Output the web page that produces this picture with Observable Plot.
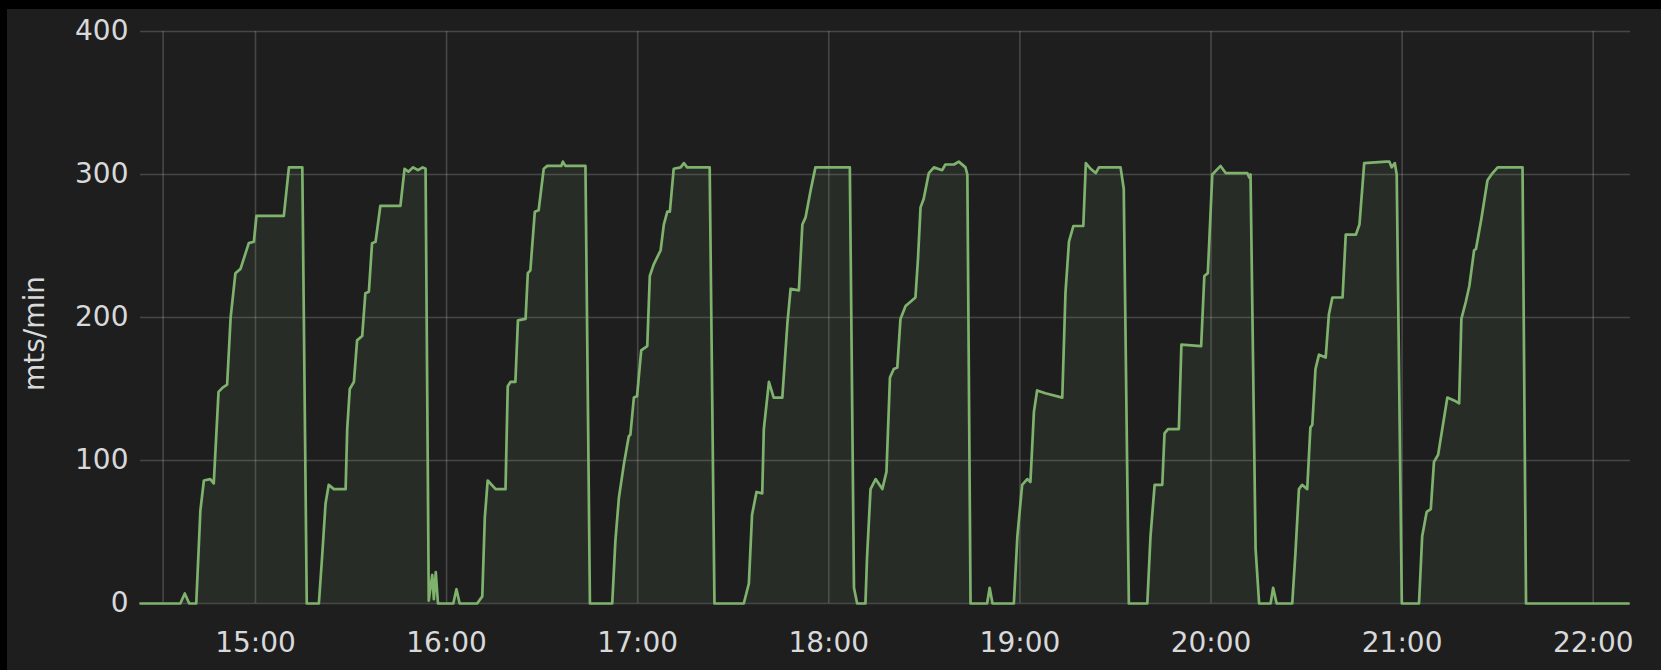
<!DOCTYPE html>
<html>
<head>
<meta charset="utf-8">
<script src="https://cdn.jsdelivr.net/npm/d3@7"></script>
<script src="https://cdn.jsdelivr.net/npm/@observablehq/plot@0.6"></script>
<style>
  html, body { margin: 0; padding: 0; background: #000; }
  #wrap { width: 1661px; height: 670px; box-sizing: border-box; padding-left: 7px; padding-top: 9px; background: #000; overflow: hidden; }
  #wrap svg { display: block; }
</style>
</head>
<body>
<div id="wrap"></div>
<script>
// Minutes relative to 15:00, and mts/min values
const minutes = [
  -36.1,-23.6,-22.2,-20.8,-18.6,-17.3,-16.2,-14.2,-13.1,-11.6,-10.3,-8.9,-7.8,-6.3,-4.7,-2.1,-0.5,0.3,8.9,10.5,14.7,16.1,19.9,
  20.9,22.0,23.0,24.6,28.3,28.8,29.6,30.9,31.9,33.5,34.5,35.6,36.6,37.7,39.2,45.5,46.8,48.0,49.5,51.0,52.5,53.4,54.4,55.5,56.0,56.6,57.3,62.1,63.1,64.1,69.6,71.2,
  72.0,72.9,75.4,78.5,79.2,80.1,81.6,82.4,84.8,85.5,86.3,87.7,88.9,90.5,91.6,96.0,96.5,97.3,103.6,105.0,112.0,
  113.0,114.1,115.7,117.2,117.7,118.8,119.8,121.1,123.0,123.8,125.0,127.2,128.2,129.3,130.1,131.3,133.5,134.5,135.5,142.6,144.1,153.3,
  154.9,155.9,157.3,159.1,159.6,161.2,162.7,165.4,167.0,168.0,170.6,171.7,172.7,174.3,175.8,186.6,187.9,188.9,191.5,
  192.0,193.1,194.7,196.8,198.1,199.2,200.4,201.5,202.5,204.1,207.2,208.0,208.8,209.8,211.4,213.0,215.6,216.6,219.3,220.8,222.9,223.5,224.5,229.7,230.5,231.4,238.1,
  239.2,240.7,242.3,243.3,244.4,245.4,248.0,253.3,254.3,255.4,256.8,259.9,260.7,262.2,263.8,264.8,271.6,272.6,274.2,280.0,
  281.0,282.3,284.7,285.4,286.5,289.9,290.7,296.9,297.9,299.0,300.4,303.0,304.6,311.4,312.0,312.4,314.0,315.1,318.7,319.5,320.6,325.5,
  326.5,327.6,328.6,330.2,331.2,331.8,332.8,333.9,336.0,337.0,338.1,341.3,342.3,345.5,346.6,348.1,355.0,356.0,356.7,357.7,358.3,359.9,365.3,
  366.3,367.7,369.0,370.0,371.3,374.2,376.3,377.9,378.6,380.0,381.1,382.6,383.2,384.8,386.8,388.4,390.0,397.8,398.9,431.1
];
const values = [
  0,0,7,0,0,65,86,87,84,148,151,153,200,231,234,252,253,271,271,305,305,0,0,
  32,70,83,80,80,122,150,155,184,187,217,218,252,253,278,278,304,302,305,303,305,304,2,20,3,22,0,0,10,0,0,5,
  60,86,80,80,152,155,155,198,199,231,233,274,275,304,306,306,309,306,306,0,0,
  44,74,98,117,118,144,145,177,180,229,237,247,265,274,274,304,305,308,305,305,0,0,
  14,62,78,77,122,155,144,144,196,220,219,265,270,289,305,305,11,0,0,
  32,80,87,80,92,158,164,165,199,208,214,241,277,283,301,305,303,307,307,309,305,300,0,0,11,0,0,
  47,83,87,85,134,149,147,144,217,253,264,264,308,304,301,305,305,290,0,0,
  47,83,83,119,122,122,181,180,229,231,300,306,301,301,298,300,38,0,0,11,0,0,
  35,80,83,80,123,125,164,174,172,202,214,214,258,258,265,308,309,309,305,308,300,0,0,
  47,64,66,99,104,144,142,140,199,211,222,247,248,268,296,301,305,305,0,0
];
const xDomainMinutes = [-36.1, 431.7];
const xTickLabels = ["15:00","16:00","17:00","18:00","19:00","20:00","21:00","22:00"];
const xGridLabels = ["14:31","15:00","16:00","17:00","18:00","19:00","20:00","21:00","22:00"];
const yTicks = [0, 100, 200, 300, 400];
const yLabel = "mts/min";

const base = Date.UTC(2020, 0, 1, 15, 0, 0);
const toDate = m => new Date(base + m * 60000);
const parseClock = s => { const [h, mm] = s.split(":").map(Number); return new Date(Date.UTC(2020, 0, 1, h, mm)); };

const data = minutes.map((m, i) => ({t: toDate(m), v: values[i]}));
const tickDates = xTickLabels.map(parseClock);
const gridDates = xGridLabels.map(parseClock);

const green = "#7eb26d";
const gridColor = "rgba(200,200,200,0.24)";
const textColor = "#d8d9da";

const chart = Plot.plot({
  width: 1654,
  height: 661,
  marginLeft: 133,
  marginRight: 31,
  marginTop: 22,
  marginBottom: 67,
  style: {background: "#1f1e1f", color: textColor, fontFamily: "'DejaVu Sans', sans-serif", fontSize: "28px"},
  x: {type: "utc", domain: xDomainMinutes.map(toDate), ticks: tickDates, tickFormat: d3.utcFormat("%H:%M"), tickSize: 0, tickPadding: 29, label: null},
  y: {domain: [0, 400], ticks: yTicks, tickSize: 0, tickPadding: 12, label: null},
  marks: [
    Plot.ruleY(yTicks, {stroke: gridColor, strokeWidth: 1.6}),
    Plot.ruleX(gridDates, {stroke: gridColor, strokeWidth: 1.6}),
    Plot.areaY(data, {x: "t", y: "v", fill: green, fillOpacity: 0.1}),
    Plot.lineY(data, {x: "t", y: "v", stroke: green, strokeWidth: 2.7, strokeLinejoin: "round"}),
    Plot.text([yLabel], {frameAnchor: "left", textAnchor: "middle", rotate: -90, dx: -105, dy: 16, fontSize: 28, fill: textColor})
  ]
});
document.getElementById("wrap").appendChild(chart);
</script>
</body>
</html>
